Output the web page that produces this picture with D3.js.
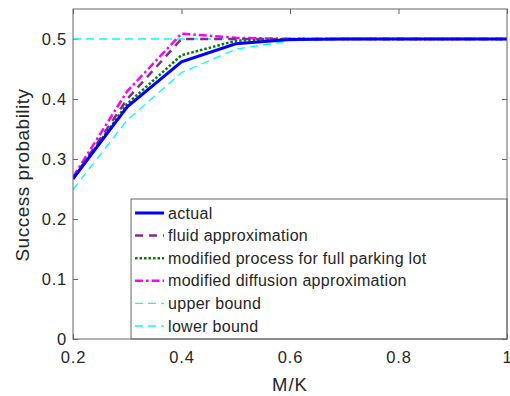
<!DOCTYPE html>
<html>
<head>
<meta charset="utf-8">
<script src="https://cdn.jsdelivr.net/npm/d3@7"></script>
<style>
  body { margin: 0; background: #fff; }
  text { font-family: "Liberation Sans", Arial, sans-serif; fill: #262626; }
</style>
</head>
<body>
<div id="canvas"></div>
<script>
// data
var mk = [0.2, 0.3, 0.4, 0.5, 0.6, 0.7, 0.8, 0.9, 1.0];
var actual    = [0.267, 0.387, 0.462, 0.492, 0.499, 0.5, 0.5, 0.5, 0.5];
var fluid     = [0.267, 0.400, 0.500, 0.500, 0.500, 0.5, 0.5, 0.5, 0.5];
var modProc   = [0.267, 0.392, 0.473, 0.497, 0.500, 0.5, 0.5, 0.5, 0.5];
var modDiff   = [0.270, 0.413, 0.509, 0.502, 0.500, 0.5, 0.5, 0.5, 0.5];
var upper     = [0.5, 0.5, 0.5, 0.5, 0.5, 0.5, 0.5, 0.5, 0.5];
var lower     = [0.249, 0.365, 0.444, 0.483, 0.497, 0.5, 0.5, 0.5, 0.5];
var xTicks = [0.2, 0.4, 0.6, 0.8, 1];
var yTicks = [0, 0.1, 0.2, 0.3, 0.4, 0.5];

var series = [
  {name: 'actual', vals: actual, color: '#0000ff', width: 3, dash: null},
  {name: 'fluid approximation', vals: fluid, color: '#7e2f8e', width: 2.5, dash: '8,6'},
  {name: 'modified process for full parking lot', vals: modProc, color: '#008000', width: 2.5, dash: '2.5,2'},
  {name: 'modified diffusion approximation', vals: modDiff, color: '#ff00ff', width: 2.5, dash: '8,3,2.5,3'},
  {name: 'upper bound', vals: upper, color: '#00ffff', width: 1.3, dash: '8,5'},
  {name: 'lower bound', vals: lower, color: '#00ffff', width: 1.3, dash: '8,5'}
];

var m = {t:9, r:3, b:57, l:73};
var W = 510, H = 396;
var w = W - m.l - m.r, h = H - m.t - m.b;

var svg = d3.select('#canvas').append('svg')
    .attr('width', W).attr('height', H);
var plot = svg.append('g')
    .attr('transform', 'translate(' + m.l + ',' + m.t + ')');

var scaleX = d3.scaleLinear().domain([0.2, 1]).range([0, w]);
var scaleY = d3.scaleLinear().domain([0, 0.55]).range([h, 0]);

// axes (ticks inward, mirrored on top/right)
var axisColor = '#666';
function styleAxis(g) {
  g.select('.domain').remove();
  g.selectAll('line').attr('stroke', axisColor);
  g.selectAll('text').style('font-size', '16.5px').style('letter-spacing', '0.8px').attr('fill', '#262626');
}
plot.append('g').attr('transform', 'translate(0,' + h + ')')
    .call(d3.axisBottom(scaleX).tickValues(xTicks).tickSize(-5).tickPadding(12).tickFormat(d3.format('')))
    .call(styleAxis);
plot.append('g')
    .call(d3.axisLeft(scaleY).tickValues(yTicks).tickSize(-5).tickPadding(6).tickFormat(d3.format('')))
    .call(styleAxis);
plot.append('g')
    .call(d3.axisTop(scaleX).tickValues(xTicks).tickSize(-5).tickFormat(''))
    .call(styleAxis);
plot.append('g').attr('transform', 'translate(' + w + ',0)')
    .call(d3.axisRight(scaleY).tickValues(yTicks).tickSize(-5).tickFormat(''))
    .call(styleAxis);

var line = d3.line()
    .x(function(d, i){ return scaleX(mk[i]); })
    .y(function(d){ return scaleY(d); });

plot.append('clipPath').attr('id', 'clip')
    .append('rect').attr('width', w).attr('height', h);

var lines = plot.append('g').attr('clip-path', 'url(#clip)');
series.slice().reverse().forEach(function(s){
  lines.append('path')
    .attr('d', line(s.vals))
    .attr('fill', 'none')
    .attr('stroke', s.color)
    .attr('stroke-width', s.width)
    .attr('stroke-dasharray', s.dash);
});

// legend
var lg = {x: scaleX(0.307), y: 190, w: w - scaleX(0.307), h: h - 190, rowH: 22.6};
var legend = plot.append('g').attr('transform', 'translate(' + lg.x + ',' + lg.y + ')');
legend.append('rect')
    .attr('width', lg.w).attr('height', lg.h)
    .attr('fill', '#fff').attr('stroke', axisColor).attr('stroke-width', 1);
series.forEach(function(s, i){
  var y = 14 + i * lg.rowH;
  legend.append('line')
    .attr('x1', 4).attr('x2', 33).attr('y1', y).attr('y2', y)
    .attr('stroke', s.color).attr('stroke-width', s.width)
    .attr('stroke-dasharray', s.dash);
  legend.append('text')
    .attr('x', 37).attr('y', y).attr('dy', '0.35em')
    .style('font-size', '16px')
    .style('letter-spacing', '0.3px')
    .text(s.name);
});

// box
plot.append('rect')
    .attr('width', w).attr('height', h)
    .attr('fill', 'none').attr('stroke', axisColor).attr('stroke-width', 1);

// titles
svg.append('text')
    .attr('x', m.l + w / 2).attr('y', 391)
    .attr('text-anchor', 'middle')
    .style('font-size', '18.5px')
    .style('letter-spacing', '1px')
    .text('M/K');
svg.append('text')
    .attr('transform', 'translate(29,' + 175 + ') rotate(-90)')
    .attr('text-anchor', 'middle')
    .style('font-size', '19px')
    .style('letter-spacing', '0.5px')
    .text('Success probability');
</script>
</body>
</html>
